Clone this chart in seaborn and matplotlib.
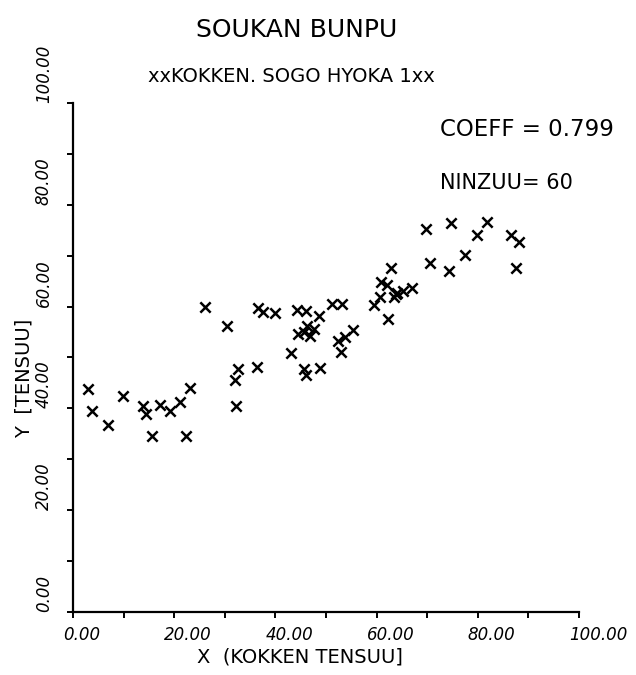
import numpy as np
import pandas as pd
import matplotlib
matplotlib.use("Agg")
import matplotlib.pyplot as plt
import seaborn as sns
from matplotlib.transforms import ScaledTranslation

# Scores (X = KOKKEN TENSUU, Y = TENSUU)
x_kokken = [3.0, 3.8, 7.0, 9.8, 13.8, 14.4, 15.7, 17.2, 19.2, 21.1,
            23.1, 22.3, 26.1, 30.5, 36.6, 37.5, 39.9, 44.2, 46.0, 44.5,
            46.2, 47.6, 46.8, 43.1, 32.7, 32.0, 36.4, 32.2, 45.7, 46.0,
            48.7, 51.2, 53.2, 52.4, 53.8, 55.4, 53.0, 48.8, 59.4, 60.6,
            60.9, 62.2, 62.8, 62.1, 63.5, 64.0, 65.3, 66.9, 70.6, 74.3,
            69.8, 74.8, 81.9, 79.8, 77.5, 86.5, 88.1, 87.5, 45.6, 63.8]
y_tensuu = [43.9, 39.4, 36.8, 42.4, 40.4, 38.9, 34.6, 40.7, 39.4, 41.3,
            44.1, 34.6, 60.0, 56.1, 59.8, 59.0, 58.7, 59.3, 59.1, 54.6,
            56.1, 55.6, 54.3, 50.9, 47.7, 45.6, 48.1, 40.5, 47.7, 46.6,
            58.2, 60.6, 60.5, 53.3, 54.1, 55.4, 51.1, 47.9, 60.4, 61.9,
            64.8, 57.5, 67.5, 64.2, 61.9, 62.6, 63.1, 63.6, 68.5, 67.0,
            75.2, 76.4, 76.7, 74.1, 70.1, 74.1, 72.6, 67.5, 55.0, 62.4]
tick_values = list(range(0, 101, 10))
tick_labels = ["0.00", "", "20.00", "", "40.00", "", "60.00", "", "80.00", "", "100.00"]

title_text = "SOUKAN BUNPU"
subtitle_text = "xxKOKKEN. SOGO HYOKA 1xx"
coeff_text = "COEFF = 0.799"
ninzuu_text = "NINZUU= 60"
x_label = "X  (KOKKEN TENSUU]"
y_label = "Y  [TENSUU]"

sns.set_theme(style="white")
plt.rcParams["font.family"] = ["DejaVu Sans"]
plt.rcParams["text.color"] = "black"
plt.rcParams["axes.labelcolor"] = "black"

fig = plt.figure(figsize=(6.36, 6.75), dpi=100)
fig.patch.set_facecolor("white")
ax = fig.add_axes([73 / 636, 63 / 675, 506 / 636, 509 / 675])
ax.set_facecolor("white")

df = pd.DataFrame({"x": x_kokken, "y": y_tensuu})
sns.scatterplot(data=df, x="x", y="y", marker="x", s=55, color="black",
                linewidth=1.8, ax=ax, legend=False)

ax.set_xlim(0, 100)
ax.set_ylim(0, 100)
sns.despine(ax=ax)
for side in ("left", "bottom"):
    ax.spines[side].set_color("black")
    ax.spines[side].set_linewidth(1.6)

ax.set_xticks(tick_values)
ax.set_xticklabels(tick_labels, fontsize=12, style="italic", color="black")
ax.set_yticks(tick_values)
ax.set_yticklabels(tick_labels, fontsize=12, style="italic", color="black")
ax.tick_params(axis="both", which="major", bottom=True, left=True,
               direction="out", length=4, width=1.4, colors="black")
ax.tick_params(axis="x", pad=6)
ax.tick_params(axis="y", pad=17, labelrotation=90)

off = ScaledTranslation(-10 / 100, 0, fig.dpi_scale_trans)
for lab in ax.get_xticklabels():
    lab.set_ha("left")
    lab.set_transform(lab.get_transform() + off)
for lab in ax.get_yticklabels():
    lab.set_va("bottom")
    lab.set_ha("center")

ax.set_xlabel(x_label, fontsize=14, color="black")
ax.xaxis.set_label_coords((300 - 73) / 506, (612 - 657) / 509)
ax.xaxis.label.set_va("center")
ax.set_ylabel(y_label, fontsize=14, color="black")
ax.yaxis.set_label_coords((24 - 73) / 506, (612 - 378) / 509)
ax.yaxis.label.set_va("center")

fig.text(297 / 636, 1 - 30 / 675, title_text, ha="center", va="center", fontsize=18, color="black")
fig.text(291 / 636, 1 - 76 / 675, subtitle_text, ha="center", va="center", fontsize=14, color="black")
fig.text(440 / 636, 1 - 130 / 675, coeff_text, ha="left", va="center", fontsize=16.5, color="black")
fig.text(440 / 636, 1 - 183 / 675, ninzuu_text, ha="left", va="center", fontsize=15, color="black")

fig.savefig("out.png", dpi=100, facecolor="white")
